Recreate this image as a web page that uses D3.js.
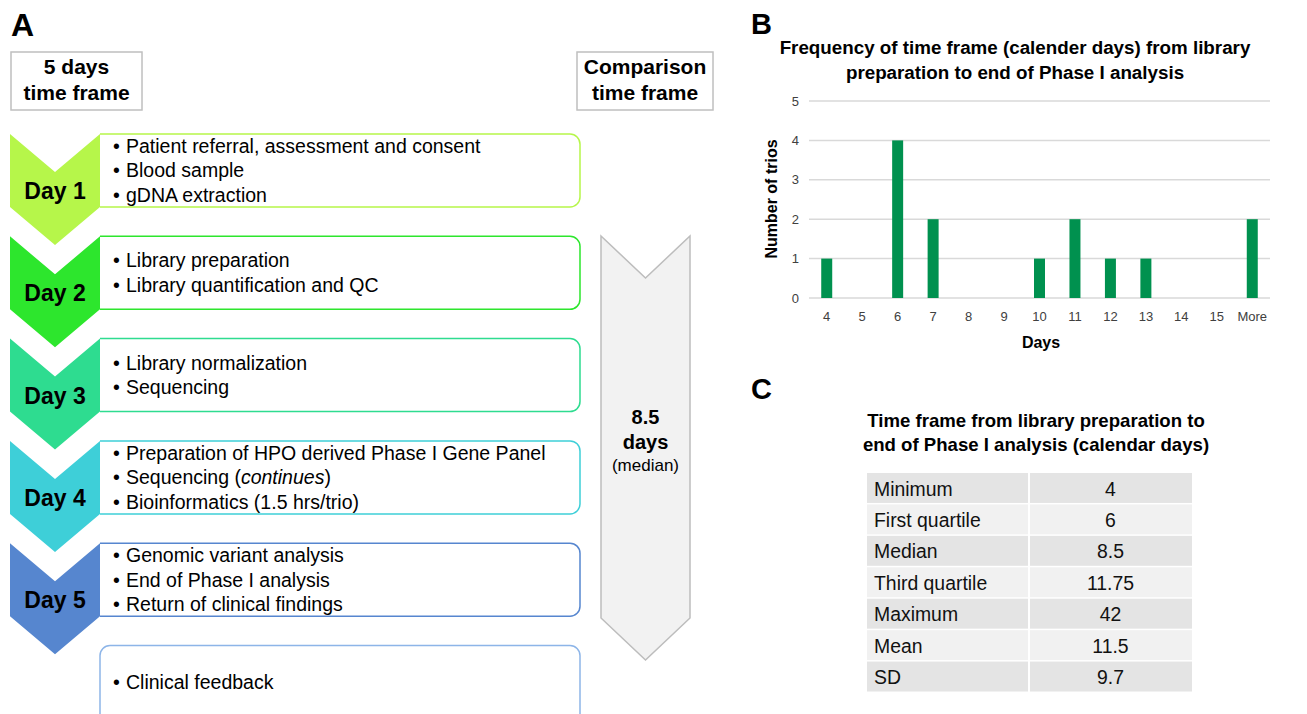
<!DOCTYPE html>
<html>
<head>
<meta charset="utf-8">
<script src="https://cdn.jsdelivr.net/npm/d3@7"></script>
<style>
  body { margin: 0; background: #fff; }
  svg { font-family: "Liberation Sans", Arial, sans-serif; display: block; }
</style>
</head>
<body>
<svg id="fig" width="1307" height="714"></svg>
<script>
// panel A data
const dayLabels = ["Day 1", "Day 2", "Day 3", "Day 4", "Day 5"]
const dayColors = ["#b6f64a", "#2de62d", "#2edc90", "#3ecfd8", "#5686cf"]
const dayItems = [
  [["Patient referral, assessment and consent"], ["Blood sample"], ["gDNA extraction"]],
  [["Library preparation"], ["Library quantification and QC"]],
  [["Library normalization"], ["Sequencing"]],
  [["Preparation of HPO derived Phase I Gene Panel"], ["Sequencing (", "continues", ")"], ["Bioinformatics (1.5 hrs/trio)"]],
  [["Genomic variant analysis"], ["End of Phase I analysis"], ["Return of clinical findings"]]
]
const feedbackItems = ["Clinical feedback"]
const medianDays = "8.5"

// panel B data
const days = ["4", "5", "6", "7", "8", "9", "10", "11", "12", "13", "14", "15", "More"]
const trios = [1, 0, 4, 2, 0, 0, 1, 2, 1, 1, 0, 0, 2]
const yTicks = [0, 1, 2, 3, 4, 5]

// panel C data
const statNames = ["Minimum", "First quartile", "Median", "Third quartile", "Maximum", "Mean", "SD"]
const statValues = ["4", "6", "8.5", "11.75", "42", "11.5", "9.7"]

const svg = d3.select("#fig")

// ---------- panel A ----------
svg.append("text").attr("x", 11).attr("y", 36)
  .style("font-size", "32px").style("font-weight", "bold").text("A")

const headerBox = (x, w, lines) => {
  svg.append("rect").attr("x", x).attr("y", 52).attr("width", w).attr("height", 58)
    .attr("fill", "#fff").attr("stroke", "#bfbfbf").attr("stroke-width", 1.5)
  lines.forEach((l, i) => {
    svg.append("text").attr("x", x + w / 2).attr("y", 67 + i * 25.5).attr("dy", "0.35em")
      .attr("text-anchor", "middle").style("font-size", "21px").style("font-weight", "bold").text(l)
  })
}
headerBox(11, 131, ["5 days", "time frame"])
headerBox(577, 136, ["Comparison", "time frame"])

const stepY = d3.scaleLinear().domain([0, 1]).range([134, 236.3])
const boxH = 73, chevL = 10, chevR = 100, boxR = 580, notch = 38, r = 10

const boxPath = (y0, h) => {
  const p = d3.path()
  p.moveTo(chevR, y0)
  p.lineTo(boxR - r, y0)
  p.arcTo(boxR, y0, boxR, y0 + r, r)
  p.lineTo(boxR, y0 + h - r)
  p.arcTo(boxR, y0 + h, boxR - r, y0 + h, r)
  p.lineTo(chevR, y0 + h)
  return p.toString()
}
const chevronPath = (y0, h) => {
  const xc = (chevL + chevR) / 2
  return d3.line()([[chevL, y0], [xc, y0 + notch], [chevR, y0], [chevR, y0 + h],
    [xc, y0 + h + notch], [chevL, y0 + h]]) + "Z"
}

const bulletLines = (g, y0, items) => {
  items.forEach((parts, i) => {
    const yy = y0 + 36.5 + (i - (items.length - 1) / 2) * 24.5
    g.append("text").attr("x", 113).attr("y", yy).attr("dy", "0.35em")
      .style("font-size", "19.5px").text("\u2022")
    const t = g.append("text").attr("x", 126).attr("y", yy).attr("dy", "0.35em")
      .style("font-size", "19.5px")
    parts.forEach((s, j) => {
      t.append("tspan").style("font-style", j === 1 ? "italic" : "normal").text(s)
    })
  })
}

dayLabels.forEach((lab, i) => {
  const y0 = stepY(i)
  const g = svg.append("g")
  g.append("path").attr("d", boxPath(y0, boxH)).attr("fill", "#fff")
    .attr("stroke", dayColors[i]).attr("stroke-width", 1.5)
  g.append("path").attr("d", chevronPath(y0, boxH)).attr("fill", dayColors[i])
  g.append("text").attr("x", 55).attr("y", y0 + 65).attr("text-anchor", "middle")
    .style("font-size", "23px").style("font-weight", "bold").text(lab)
  bulletLines(g, y0, dayItems[i])
})

// clinical feedback box (fully rounded, runs off the bottom)
const fbY = stepY(5)
svg.append("rect").attr("x", 100).attr("y", fbY).attr("width", boxR - 100).attr("height", 80)
  .attr("rx", r).attr("fill", "#fff").attr("stroke", "#8db5e8").attr("stroke-width", 1.5)
bulletLines(svg.append("g"), fbY, feedbackItems.map(d => [d]))

// comparison arrow
const ax0 = 601, ax1 = 690, axc = (ax0 + ax1) / 2, aTop = 236, aBot = 618, aN = 42
svg.append("path")
  .attr("d", d3.line()([[ax0, aTop], [axc, aTop + aN], [ax1, aTop], [ax1, aBot], [axc, aBot + aN], [ax0, aBot]]) + "Z")
  .attr("fill", "#f2f2f2").attr("stroke", "#bdbdbd").attr("stroke-width", 1.5)
svg.append("text").attr("x", axc).attr("y", 417).attr("dy", "0.35em").attr("text-anchor", "middle")
  .style("font-size", "20px").style("font-weight", "bold").text(medianDays)
svg.append("text").attr("x", axc).attr("y", 442).attr("dy", "0.35em").attr("text-anchor", "middle")
  .style("font-size", "20px").style("font-weight", "bold").text("days")
svg.append("text").attr("x", axc).attr("y", 465).attr("dy", "0.35em").attr("text-anchor", "middle")
  .style("font-size", "17px").text("(median)")

// ---------- panel B ----------
svg.append("text").attr("x", 751).attr("y", 34)
  .style("font-size", "29px").style("font-weight", "bold").text("B")
const titleB = ["Frequency of time frame (calender days) from library", "preparation to end of Phase I analysis"]
titleB.forEach((l, i) => {
  svg.append("text").attr("x", 1015).attr("y", 47 + i * 25).attr("dy", "0.35em")
    .attr("text-anchor", "middle").style("font-size", "18.8px").style("font-weight", "bold").text(l)
})

const x = d3.scaleBand().domain(days).range([809, 1270]).paddingInner(0.69).paddingOuter(0.345)
const y = d3.scaleLinear().domain([0, 5]).range([298, 101])

const grid = svg.append("g")
grid.selectAll("line").data(yTicks).join("line")
  .attr("x1", 809).attr("x2", 1270).attr("y1", d => y(d)).attr("y2", d => y(d))
  .attr("stroke", "#d9d9d9").attr("stroke-width", 1.5)

const yAxis = svg.append("g").attr("transform", "translate(809,0)")
  .call(d3.axisLeft(y).tickValues(yTicks).tickFormat(d3.format("d")).tickSize(0).tickPadding(10))
yAxis.select(".domain").remove()
yAxis.selectAll("text").style("font-size", "13px").style("fill", "#404040")
  .style("font-family", "Liberation Sans, Arial, sans-serif")

svg.append("g").selectAll("rect").data(trios).join("rect")
  .attr("x", (d, i) => x(days[i])).attr("width", x.bandwidth())
  .attr("y", d => y(d)).attr("height", d => y(0) - y(d))
  .attr("fill", "#00914f")

const xAxis = svg.append("g").attr("transform", "translate(0,298)")
  .call(d3.axisBottom(x).tickSize(0).tickPadding(14))
xAxis.select(".domain").remove()
xAxis.selectAll("text").style("font-size", "13px").style("fill", "#404040")
  .style("font-family", "Liberation Sans, Arial, sans-serif")

svg.append("text").attr("x", 1041).attr("y", 342).attr("dy", "0.35em").attr("text-anchor", "middle")
  .style("font-size", "16px").style("font-weight", "bold").text("Days")
svg.append("text").attr("transform", "translate(771,199) rotate(-90)").attr("dy", "0.35em")
  .attr("text-anchor", "middle").style("font-size", "16px").style("font-weight", "bold").text("Number of trios")

// ---------- panel C ----------
svg.append("text").attr("x", 751).attr("y", 399)
  .style("font-size", "29px").style("font-weight", "bold").text("C")
const titleC = ["Time frame from library preparation to", "end of Phase I analysis (calendar days)"]
titleC.forEach((l, i) => {
  svg.append("text").attr("x", 1036).attr("y", 420 + i * 24).attr("dy", "0.35em")
    .attr("text-anchor", "middle").style("font-size", "18.6px").style("font-weight", "bold").text(l)
})

const rowY = d3.scaleBand().domain(statNames).range([473, 693])
const colX = [867, 1029, 1192]
const rows = svg.append("g").selectAll("g").data(statNames).join("g")
rows.append("rect").attr("x", colX[0]).attr("y", d => rowY(d)).attr("width", colX[1] - colX[0] - 1)
  .attr("height", rowY.bandwidth() - 1.5).attr("fill", (d, i) => i % 2 ? "#f1f1f1" : "#e4e4e4")
rows.append("rect").attr("x", colX[1] + 1).attr("y", d => rowY(d)).attr("width", colX[2] - colX[1] - 1)
  .attr("height", rowY.bandwidth() - 1.5).attr("fill", (d, i) => i % 2 ? "#f1f1f1" : "#e4e4e4")
rows.append("text").attr("x", colX[0] + 7).attr("y", d => rowY(d) + rowY.bandwidth() / 2).attr("dy", "0.35em")
  .style("font-size", "19.4px").style("fill", "#111").text(d => d)
rows.append("text").attr("x", (colX[1] + colX[2]) / 2).attr("y", d => rowY(d) + rowY.bandwidth() / 2)
  .attr("dy", "0.35em").attr("text-anchor", "middle").style("font-size", "19.4px").style("fill", "#111")
  .text((d, i) => statValues[i])
</script>
</body>
</html>
